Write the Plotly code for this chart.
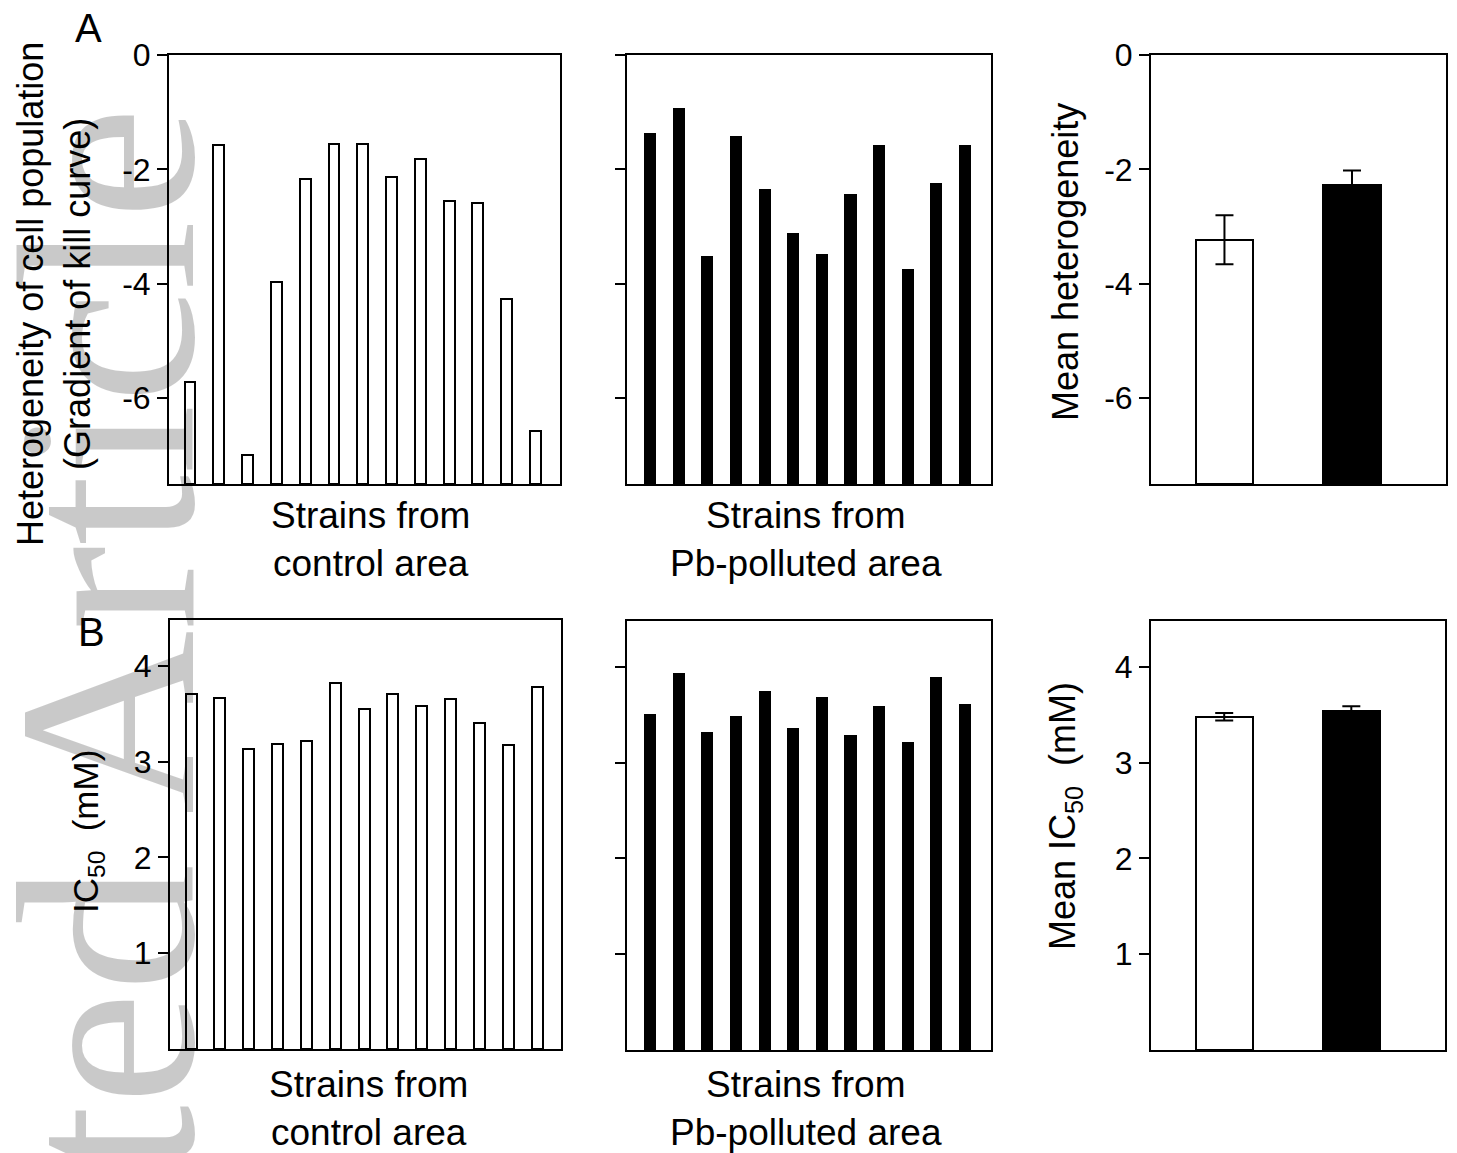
import plotly.graph_objects as go

W, H = 1457, 1153

# ---------------- data ----------------
control_het = [-5.71, -1.57, -6.99, -3.97, -2.17, -1.55, -1.55, -2.13, -1.81, -2.56, -2.59, -4.27, -6.58]
polluted_het = [-1.36, -0.93, -3.52, -1.42, -2.34, -3.12, -3.48, -2.43, -1.57, -3.74, -2.24, -1.58]
mean_het = [-3.23, -2.28]
mean_het_err = [0.43, 0.26]

control_ic50 = [3.71, 3.67, 3.13, 3.18, 3.22, 3.82, 3.55, 3.71, 3.58, 3.66, 3.40, 3.17, 3.78]
polluted_ic50 = [3.51, 3.94, 3.32, 3.49, 3.75, 3.36, 3.69, 3.29, 3.59, 3.22, 3.90, 3.61]
mean_ic50 = [3.48, 3.54]
mean_ic50_err = [0.04, 0.05]

groups = ["Control", "Pb-polluted"]
het_ticks = [0, -2, -4, -6]
ic50_ticks = [1, 2, 3, 4]
het_range = [-7.5, 0]
ic50_range = [0, 4.48]

FONT = "Liberation Sans, Arial, sans-serif"


def xd(a, b):
    return [a / W, b / W]


def yd(top, bottom):
    return [1 - bottom / H, 1 - top / H]


fig = go.Figure()

WHITE_BAR = dict(color="white", line=dict(color="black", width=2))
BLACK_BAR = dict(color="black", line=dict(color="black", width=0))

floor = het_range[0]

# Top row: heterogeneity
fig.add_trace(go.Bar(x=list(range(len(control_het))), y=[v - floor for v in control_het], base=floor,
                     width=0.38, marker=WHITE_BAR, xaxis="x", yaxis="y"))
fig.add_trace(go.Bar(x=list(range(len(polluted_het))), y=[v - floor for v in polluted_het], base=floor,
                     width=0.42, marker=BLACK_BAR, xaxis="x2", yaxis="y2"))
fig.add_trace(go.Bar(x=groups, y=[v - floor for v in mean_het], base=floor, width=0.45,
                     marker=dict(color=["white", "black"], line=dict(color="black", width=2)),
                     xaxis="x3", yaxis="y3"))
fig.add_trace(go.Scatter(x=groups, y=mean_het, mode="markers", marker=dict(size=1, opacity=0),
                         error_y=dict(type="data", array=mean_het_err, color="black", thickness=2, width=9),
                         xaxis="x3", yaxis="y3"))

# Bottom row: IC50
fig.add_trace(go.Bar(x=list(range(len(control_ic50))), y=control_ic50, width=0.38, marker=WHITE_BAR,
                     xaxis="x4", yaxis="y4"))
fig.add_trace(go.Bar(x=list(range(len(polluted_ic50))), y=polluted_ic50, width=0.42, marker=BLACK_BAR,
                     xaxis="x5", yaxis="y5"))
fig.add_trace(go.Bar(x=groups, y=mean_ic50, width=0.45,
                     marker=dict(color=["white", "black"], line=dict(color="black", width=2)),
                     xaxis="x6", yaxis="y6"))
fig.add_trace(go.Scatter(x=groups, y=mean_ic50, mode="markers", marker=dict(size=1, opacity=0),
                         error_y=dict(type="data", array=mean_ic50_err, color="black", thickness=2, width=9),
                         xaxis="x6", yaxis="y6"))

common_x = dict(showline=True, mirror=True, linecolor="black", linewidth=2, showgrid=False,
                zeroline=False, showticklabels=False, ticks="", fixedrange=True, automargin=False)
common_y = dict(showline=True, mirror=True, linecolor="black", linewidth=2, showgrid=False,
                zeroline=False, ticks="outside", ticklen=10, tickwidth=2, tickcolor="black",
                tickfont=dict(family=FONT, size=32, color="black"), fixedrange=True, automargin=False)

panels = [
    # (x domain px, y domain px, x range, y range, tickvals, show labels)
    ((169, 560), (55, 484), [-0.73, 12.85], het_range, het_ticks, True),
    ((627, 991), (55, 484), [-0.81, 11.91], het_range, het_ticks, False),
    ((1151, 1446), (55, 484), [-0.576, 1.737], het_range, het_ticks, True),
    ((170, 561), (620, 1049), [-0.73, 12.83], ic50_range, ic50_ticks, True),
    ((627, 991), (621, 1050), [-0.81, 11.91], ic50_range, ic50_ticks, False),
    ((1151, 1445), (621, 1050), [-0.576, 1.737], ic50_range, ic50_ticks, True),
]

layout_axes = {}
for i, (xdom, ydom, xr, yr, tv, lab) in enumerate(panels, start=1):
    sx = "" if i == 1 else str(i)
    layout_axes["xaxis" + sx] = dict(common_x, domain=xd(*xdom), range=xr, anchor="y" + sx)
    layout_axes["yaxis" + sx] = dict(common_y, domain=yd(*ydom), range=yr, anchor="x" + sx,
                                     tickvals=tv, ticktext=[str(t) for t in tv], showticklabels=lab)


def ann(text, px, py, size, angle=0, color="black", family=FONT, xanchor="center", yanchor="middle"):
    return dict(text=text, x=px / W, y=1 - py / H, xref="paper", yref="paper", showarrow=False,
                textangle=angle, xanchor=xanchor, yanchor=yanchor,
                font=dict(family=family, size=size, color=color))


annotations = [
    # watermark
    ann("Accepted Article", 250, 105, 255, angle=-90, color="rgba(0,0,0,0.21)",
        family="Liberation Serif, Times New Roman, serif", xanchor="right", yanchor="top"),
    ann("A", 88, 28, 40),
    ann("B", 91, 632, 40),
    ann("Heterogeneity of cell population<br>(Gradient of kill curve)", 54, 294, 36, angle=-90),
    ann("Mean heterogeneity", 1065, 262, 36, angle=-90),
    ann("IC<sub>50</sub>  (mM)", 88, 832, 35, angle=-90),
    ann("Mean IC<sub>50</sub>  (mM)", 1065, 816, 36, angle=-90),
    ann("Strains from<br>control area", 370, 540, 37),
    ann("Strains from<br>Pb-polluted area", 806, 540, 37),
    ann("Strains from<br>control area", 368, 1108, 37),
    ann("Strains from<br>Pb-polluted area", 806, 1108, 37),
]

fig.update_layout(
    width=W, height=H, margin=dict(l=0, r=0, t=0, b=0, pad=0, autoexpand=False),
    paper_bgcolor="white", plot_bgcolor="rgba(0,0,0,0)",
    showlegend=False, bargap=0, annotations=annotations,
    **layout_axes,
)

fig.write_html("out.html", config={"displayModeBar": False})
